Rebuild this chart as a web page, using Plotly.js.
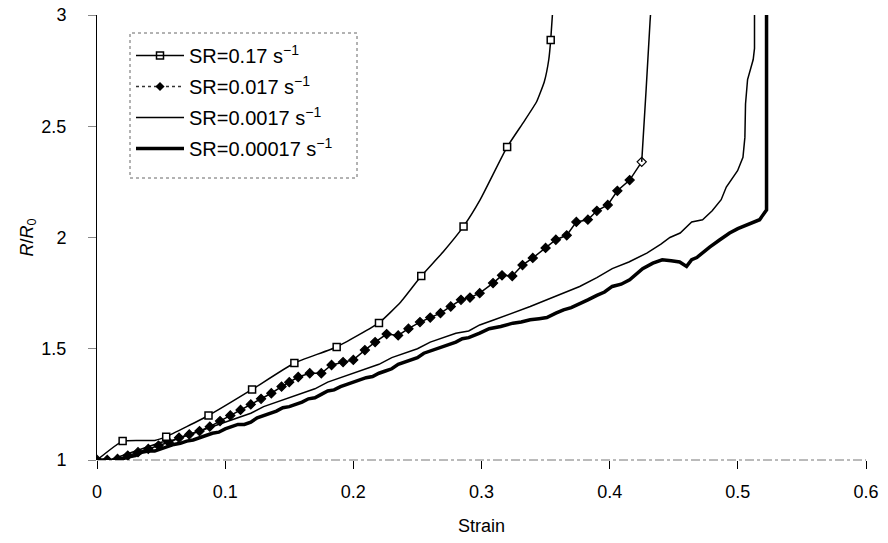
<!DOCTYPE html>
<html>
<head>
<meta charset="utf-8">
<script src="https://cdn.plot.ly/plotly-3.0.1.min.js"></script>
<style>html,body{margin:0;padding:0;background:#fff;}#chart{width:888px;height:543px;}</style>
</head>
<body>
<div id="chart"></div>
<script>
// ---- Data ----
var seriesNames = ["SR=0.17 s<sup>−1</sup>", "SR=0.017 s<sup>−1</sup>", "SR=0.0017 s<sup>−1</sup>", "SR=0.00017 s<sup>−1</sup>"];

// SR = 0.17 /s  (open squares on some points)
var s1Strain = [0, 0.020, 0.045, 0.054, 0.087, 0.121, 0.154, 0.187, 0.220, 0.237, 0.253, 0.270, 0.286, 0.299, 0.320, 0.333, 0.343, 0.349, 0.3525, 0.354, 0.3565];
var s1R      = [1.0, 1.085, 1.088, 1.105, 1.20, 1.317, 1.436, 1.508, 1.616, 1.71, 1.827, 1.935, 2.05, 2.17, 2.407, 2.52, 2.61, 2.70, 2.80, 2.888, 3.1];
var s1MarkedIdx = [1, 3, 4, 5, 6, 7, 8, 10, 12, 14, 19];

// SR = 0.017 /s  (diamonds on every point, then a line-only tail)
var s2Strain = [0, 0.008, 0.016, 0.024, 0.032, 0.040, 0.048, 0.056, 0.064, 0.072, 0.080, 0.088, 0.096, 0.104, 0.112, 0.120, 0.128, 0.136, 0.144, 0.150,
                0.157, 0.166, 0.175, 0.183, 0.192, 0.200, 0.209, 0.217, 0.226, 0.235, 0.243, 0.252, 0.260, 0.268, 0.276, 0.284, 0.291,
                0.2986, 0.309, 0.316, 0.324, 0.332, 0.340, 0.350, 0.358, 0.3665, 0.374, 0.383, 0.390, 0.3985, 0.406, 0.4156, 0.425];
var s2R      = [1.0, 1.0, 1.005, 1.02, 1.035, 1.05, 1.065, 1.08, 1.10, 1.115, 1.13, 1.15, 1.175, 1.20, 1.225, 1.25, 1.275, 1.30, 1.33, 1.35,
                1.373, 1.39, 1.39, 1.427, 1.44, 1.45, 1.494, 1.53, 1.566, 1.56, 1.59, 1.62, 1.64, 1.66, 1.69, 1.72, 1.73,
                1.75, 1.795, 1.83, 1.827, 1.876, 1.908, 1.953, 1.99, 2.01, 2.07, 2.08, 2.12, 2.146, 2.21, 2.258, 2.34];
var s2TailStrain = [0.425, 0.4265, 0.4285, 0.4315, 0.433];
var s2TailR      = [2.34, 2.50, 2.67, 2.97, 3.1];

// SR = 0.0017 /s  (thin line)
var s3Strain = [0, 0.010, 0.020, 0.030, 0.040, 0.050, 0.060, 0.070, 0.080, 0.090, 0.100, 0.110, 0.120, 0.130, 0.140, 0.150, 0.160, 0.170, 0.180, 0.190,
                0.200, 0.210, 0.220, 0.230, 0.240, 0.250, 0.260, 0.270, 0.280, 0.290, 0.2986, 0.310, 0.3245, 0.338, 0.351, 0.364, 0.3766, 0.390,
                0.402, 0.415, 0.429, 0.440, 0.447, 0.455, 0.464, 0.4725, 0.480, 0.487, 0.491, 0.4998, 0.504, 0.5055, 0.506, 0.5076, 0.512, 0.513, 0.513];
var s3R      = [1.0, 1.0, 1.02, 1.04, 1.06, 1.08, 1.09, 1.11, 1.13, 1.15, 1.17, 1.19, 1.21, 1.24, 1.26, 1.28, 1.30, 1.32, 1.35, 1.37,
                1.39, 1.41, 1.43, 1.46, 1.48, 1.50, 1.53, 1.55, 1.57, 1.58, 1.607, 1.63, 1.66, 1.69, 1.72, 1.75, 1.78, 1.82,
                1.86, 1.89, 1.93, 1.97, 2.0, 2.02, 2.07, 2.08, 2.12, 2.17, 2.227, 2.30, 2.36, 2.45, 2.60, 2.71, 2.80, 2.85, 3.1];

// SR = 0.00017 /s  (thick noisy line)
var s4Strain = [0, 0.005, 0.010, 0.015, 0.020, 0.025, 0.030, 0.035, 0.040, 0.045, 0.050, 0.055, 0.060, 0.065, 0.070, 0.075, 0.080, 0.085, 0.090, 0.095,
                0.100, 0.105, 0.110, 0.115, 0.120, 0.125, 0.130, 0.135, 0.140, 0.145, 0.150, 0.155, 0.160, 0.165, 0.170, 0.175, 0.180, 0.185,
                0.190, 0.195, 0.200, 0.205, 0.210, 0.215, 0.220, 0.225, 0.230, 0.235, 0.240, 0.245, 0.250, 0.255, 0.260, 0.265, 0.270, 0.275,
                0.280, 0.285, 0.290, 0.2986, 0.306, 0.315, 0.3245, 0.331, 0.338, 0.345, 0.351, 0.358, 0.364, 0.370, 0.3766, 0.383, 0.390, 0.396,
                0.402, 0.409, 0.4156, 0.421, 0.4257, 0.4337, 0.441, 0.448, 0.4546, 0.460, 0.464, 0.468, 0.473, 0.478, 0.486, 0.4936, 0.500,
                0.506, 0.5117, 0.517, 0.5224, 0.5224];
var s4R      = [1.0, 1.0, 0.995, 1.0, 1.005, 1.015, 1.02, 1.035, 1.04, 1.04, 1.05, 1.06, 1.07, 1.075, 1.085, 1.09, 1.10, 1.11, 1.12, 1.125,
                1.14, 1.15, 1.16, 1.16, 1.17, 1.19, 1.20, 1.21, 1.22, 1.235, 1.24, 1.25, 1.26, 1.275, 1.28, 1.295, 1.31, 1.315,
                1.33, 1.34, 1.35, 1.36, 1.37, 1.375, 1.39, 1.40, 1.41, 1.43, 1.44, 1.45, 1.46, 1.48, 1.49, 1.50, 1.51, 1.52,
                1.53, 1.545, 1.55, 1.57, 1.59, 1.60, 1.615, 1.62, 1.63, 1.635, 1.64, 1.66, 1.675, 1.685, 1.705, 1.72, 1.74, 1.755,
                1.78, 1.79, 1.81, 1.835, 1.86, 1.885, 1.90, 1.895, 1.89, 1.87, 1.90, 1.91, 1.935, 1.957, 1.99, 2.02, 2.04,
                2.055, 2.07, 2.08, 2.124, 3.1];

// ---- Traces ----
var font = "Liberation Sans, Arial, sans-serif";
var blk = "#000";

var s1MarkX = s1MarkedIdx.map(function(i){ return s1Strain[i]; });
var s1MarkY = s1MarkedIdx.map(function(i){ return s1R[i]; });
var s2Fill = s2Strain.map(function(v, i){ return i === s2Strain.length - 1 ? "#fff" : blk; });

var traces = [
  // legend entries
  {x:[null], y:[null], type:"scatter", mode:"lines+markers", name:seriesNames[0], legendgroup:"g1",
   line:{color:blk, width:1.5}, marker:{symbol:"square-open", size:7, color:blk, line:{width:1.5}}},
  {x:[null], y:[null], type:"scatter", mode:"lines+markers", name:seriesNames[1], legendgroup:"g2",
   line:{color:"#333", width:1.5, dash:"dot"}, marker:{symbol:"diamond", size:7, color:blk}},
  {x:[null], y:[null], type:"scatter", mode:"lines", name:seriesNames[2], legendgroup:"g3",
   line:{color:blk, width:1.5}},
  {x:[null], y:[null], type:"scatter", mode:"lines", name:seriesNames[3], legendgroup:"g4",
   line:{color:blk, width:3.5}},
  // data
  {x:s4Strain, y:s4R, type:"scatter", mode:"lines", showlegend:false, legendgroup:"g4",
   line:{color:blk, width:3.5}},
  {x:s3Strain, y:s3R, type:"scatter", mode:"lines", showlegend:false, legendgroup:"g3",
   line:{color:blk, width:1.5}},
  {x:s2Strain, y:s2R, type:"scatter", mode:"lines+markers", showlegend:false, legendgroup:"g2",
   line:{color:blk, width:1.5}, marker:{symbol:"diamond", size:7, color:s2Fill, line:{color:blk, width:1.2}}},
  {x:s2TailStrain, y:s2TailR, type:"scatter", mode:"lines", showlegend:false, legendgroup:"g2",
   line:{color:blk, width:1.5}},
  {x:s1Strain, y:s1R, type:"scatter", mode:"lines", showlegend:false, legendgroup:"g1",
   line:{color:blk, width:1.5, shape:"spline", smoothing:0.4}},
  {x:s1MarkX, y:s1MarkY, type:"scatter", mode:"markers", showlegend:false, legendgroup:"g1",
   marker:{symbol:"square", size:7, color:"#fff", line:{color:blk, width:1.5}}}
];

var L = 97, R = 22, T = 15, B = 83, W = 888, H = 543;
var pw = W - L - R, ph = H - T - B;
function px2x(p){ return (p - L) / pw; }
function px2y(p){ return (H - B - p) / ph; }

var layout = {
  width: W, height: H,
  margin: {l:L, r:R, t:T, b:B, pad:0},
  paper_bgcolor: "#fff", plot_bgcolor: "#fff",
  font: {family: font, size: 18, color: blk},
  showlegend: true,
  legend: {
    x: px2x(131), y: px2y(36), xanchor: "left", yanchor: "top",
    bgcolor: "rgba(0,0,0,0)", borderwidth: 0,
    font: {family: font, size: 20, color: blk},
    traceorder: "grouped", tracegroupgap: 2, itemwidth: 48
  },
  xaxis: {
    range: [0, 0.6], tickvals: [0, 0.1, 0.2, 0.3, 0.4, 0.5, 0.6],
    ticktext: ["0", "0.1", "0.2", "0.3", "0.4", "0.5", "0.6"],
    showgrid: false, zeroline: false, showline: false,
    ticks: "outside", ticklen: 8, tickwidth: 1, tickcolor: blk,
    ticklabelstandoff: 7,
    tickfont: {family: font, size: 18, color: blk},
    title: {text: "Strain", font: {family: font, size: 18, color: blk}, standoff: 18}
  },
  yaxis: {
    range: [1, 3], tickvals: [1, 1.5, 2, 2.5, 3],
    ticktext: ["1", "1.5", "2", "2.5", "3"],
    showgrid: false, zeroline: false, showline: true, linecolor: blk, linewidth: 1,
    ticks: "outside", ticklen: 8, tickwidth: 1, tickcolor: "#888",
    ticklabelstandoff: 18,
    tickfont: {family: font, size: 18, color: blk},
    title: {text: "<i>R</i>/<i>R</i><sub>0</sub>", font: {family: font, size: 18, color: blk}, standoff: 3}
  },
  shapes: [
    {type:"line", xref:"paper", yref:"paper", x0:0, x1:1, y0:0, y1:0,
     line:{color:"#777", width:1, dash:"dashdot"}, layer:"below"},
    {type:"rect", xref:"paper", yref:"paper", x0:px2x(130), x1:px2x(357), y0:px2y(178), y1:px2y(33),
     line:{color:"#666", width:1, dash:"dot"}, fillcolor:"rgba(0,0,0,0)", layer:"above"}
  ]
};

Plotly.newPlot("chart", traces, layout, {displayModeBar:false, staticPlot:true});
</script>
</body>
</html>
